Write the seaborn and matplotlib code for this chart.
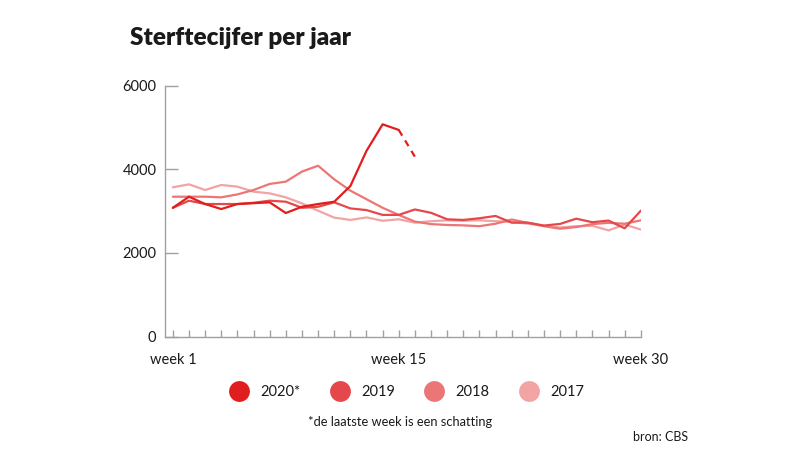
"""Sterftecijfer per jaar: weekly deaths in the Netherlands, 2017-2020."""

import matplotlib.pyplot as plt
import pandas as pd
import seaborn as sns
from matplotlib.lines import Line2D

sns.set_theme(style="white")
plt.rcParams["font.family"] = ["Lato", "DejaVu Sans"]

WEEKS = list(range(1, 31))
DEATHS_2020 = [3080, 3345, 3170, 3050, 3170, 3190, 3210, 2955, 3105, 3170,
               3225, 3600, 4440, 5075, 4940, 4300]
DEATHS_2019 = [3080, 3250, 3170, 3170, 3170, 3200, 3250, 3225, 3080, 3105,
               3210, 3065, 3025, 2910, 2910, 3040, 2960, 2805, 2790, 2830,
               2885, 2725, 2725, 2655, 2695, 2820, 2735, 2775, 2590, 3010]
DEATHS_2018 = [3345, 3345, 3345, 3330, 3400, 3505, 3650, 3705, 3945, 4085,
               3760, 3490, 3285, 3080, 2910, 2750, 2690, 2670, 2660, 2640,
               2700, 2800, 2720, 2640, 2580, 2620, 2690, 2720, 2700, 2780]
DEATHS_2017 = [3570, 3640, 3505, 3625, 3585, 3465, 3425, 3330, 3185, 3010,
               2845, 2790, 2850, 2770, 2805, 2725, 2760, 2780, 2770, 2780,
               2760, 2740, 2700, 2650, 2610, 2640, 2650, 2540, 2680, 2560]

YEARS = ["2020*", "2019", "2018", "2017"]
COLORS = {"2020*": "#e01e1e", "2019": "#e5484a", "2018": "#ec7676", "2017": "#f2a3a3"}
AXIS_GREY = "#a0a0a0"

# 2020 is solid up to the last known week, the estimate is drawn dashed
n_known = len(DEATHS_2020) - 1
frames = [
    pd.DataFrame({"week": WEEKS, "deaths": DEATHS_2017, "year": "2017"}),
    pd.DataFrame({"week": WEEKS, "deaths": DEATHS_2018, "year": "2018"}),
    pd.DataFrame({"week": WEEKS, "deaths": DEATHS_2019, "year": "2019"}),
    pd.DataFrame({"week": WEEKS[:n_known], "deaths": DEATHS_2020[:n_known], "year": "2020*"}),
]
df = pd.concat(frames, ignore_index=True)
estimate = pd.DataFrame({"week": WEEKS[n_known - 1:len(DEATHS_2020)],
                         "deaths": DEATHS_2020[n_known - 1:]})

fig = plt.figure(figsize=(8, 4.5), dpi=100)
ax = fig.add_axes([0.206, 0.2518, 0.595, 0.558])

sns.lineplot(data=df, x="week", y="deaths", hue="year", palette=COLORS,
             hue_order=["2017", "2018", "2019", "2020*"], linewidth=1.6,
             legend=False, ax=ax)
sns.lineplot(data=estimate, x="week", y="deaths", color=COLORS["2020*"],
             linewidth=1.6, linestyle=(0, (3, 2.5)), ax=ax)

ax.set_xlim(0.5, 30)
ax.set_ylim(0, 6000)
ax.set_xlabel("")
ax.set_ylabel("")

for side in ["top", "right"]:
    ax.spines[side].set_visible(False)
for side in ["left", "bottom"]:
    ax.spines[side].set_color(AXIS_GREY)
    ax.spines[side].set_linewidth(1.0)

ax.set_yticks([0, 2000, 4000, 6000])
ax.tick_params(axis="y", direction="in", length=9, width=1.0, color=AXIS_GREY,
               labelsize=10.5, labelcolor="#1a1a1a", pad=6, left=True)
ax.set_xticks(WEEKS, minor=True)
ax.set_xticks([1, 15, 30])
ax.set_xticklabels(["week 1", "week 15", "week 30"])
ax.tick_params(axis="x", which="both", direction="in", length=5, width=1.0,
               color=AXIS_GREY, bottom=True)
ax.tick_params(axis="x", which="major", labelsize=10.5, labelcolor="#1a1a1a", pad=12)

fig.text(0.1625, 0.916, "Sterftecijfer per jaar", fontsize=17.5, fontweight="heavy",
         color="#1a1a1a", va="center", ha="left")

handles = [Line2D([], [], linestyle="none", marker="o", markersize=15,
                  markerfacecolor=COLORS[y], markeredgecolor="none") for y in YEARS]
fig.legend(handles, YEARS, loc="center", bbox_to_anchor=(0.508, 0.128), ncol=4,
           frameon=False, fontsize=10.5, handlelength=1.4, handletextpad=0.75,
           columnspacing=2.0, labelcolor="#1a1a1a")

fig.text(0.5, 0.062, "*de laatste week is een schatting", fontsize=9.3,
         color="#1a1a1a", ha="center", va="center")
fig.text(0.86, 0.028, "bron: CBS", fontsize=9, color="#1a1a1a",
         ha="right", va="center")

fig.savefig("out.png", dpi=100)
